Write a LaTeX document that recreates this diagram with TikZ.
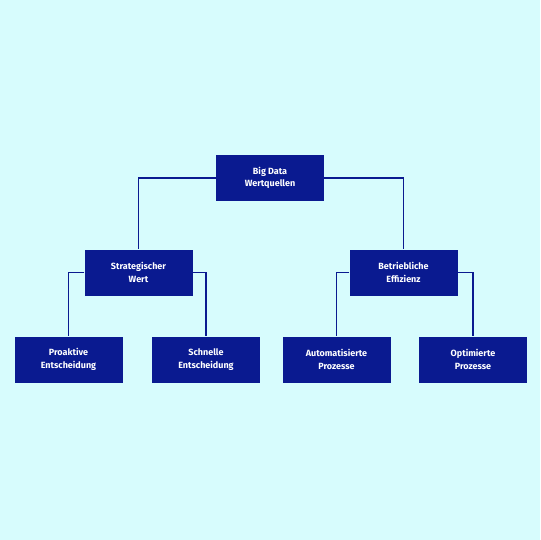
\documentclass[tikz,border=0pt]{standalone}
\usepackage{fontspec}
\setsansfont{Fira Sans}
\usepackage{tikz}
\definecolor{treeBg}{HTML}{D7FCFD}
\definecolor{treeBlue}{HTML}{0A1A90}

\begin{document}
\begin{tikzpicture}[x=1pt, y=-1pt,
    valuebox/.style={fill=treeBlue, text=white, minimum width=108pt, minimum height=46pt,
        align=center, font=\sffamily\bfseries\fontsize{9}{12.5}\selectfont, inner sep=2pt},
    branch/.style={draw=treeBlue, line width=1.2pt}]
            \fill[treeBg] (0,0) rectangle (540,540);
            \node[valuebox] (root) at (270,178) {Big Data\\Wertquellen};
            \node[valuebox] (strat) at (138.5,272.5) {Strategischer\\Wert};
            \node[valuebox] (betr) at (403.5,272.5) {Betriebliche\\Effizienz};
            \node[valuebox] (proakt) at (68.5,359.5) {Proaktive\\Entscheidung};
            \node[valuebox] (schnell) at (206,359.5) {Schnelle\\Entscheidung};
            \node[valuebox] (auto) at (336.5,359.5) {Automatisierte\\Prozesse};
            \node[valuebox] (optim) at (473,359.5) {Optimierte\\Prozesse};
            \draw[branch] (root.west) -| (strat.north);
            \draw[branch] (root.east) -| (betr.north);
            \draw[branch] (strat.west) -| (proakt.north);
            \draw[branch] (strat.east) -| (schnell.north);
            \draw[branch] (betr.west) -| (auto.north);
            \draw[branch] (betr.east) -| (optim.north);
        \end{tikzpicture}
\end{document}
